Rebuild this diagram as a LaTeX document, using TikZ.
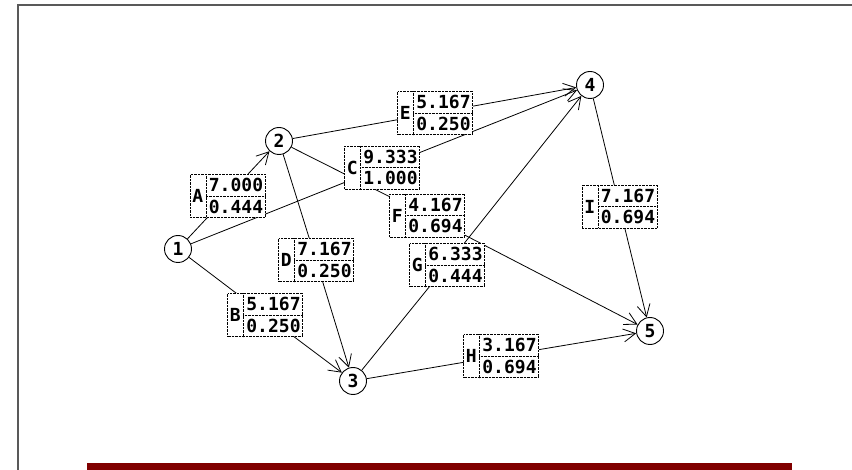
\documentclass[tikz,border=0pt]{standalone}
\usepackage{fontspec}
\newfontfamily\netfont{DejaVu Sans Mono}
\usetikzlibrary{arrows.meta,backgrounds}

\definecolor{barred}{HTML}{800000}

\tikzset{%
  event/.style    = {draw,circle,line width=0.9pt,minimum size=27pt,inner sep=0pt,fill=white,
                     font=\netfont\bfseries\fontsize{18pt}{18pt}\selectfont},
  actbox/.style   = {draw,densely dotted,fill=white,minimum width=75pt,minimum height=43pt,inner sep=0pt},
  cell/.style     = {inner sep=0pt,font=\netfont\bfseries\fontsize{18pt}{18pt}\selectfont},
  arc/.style      = {line width=0.8pt,-{Straight Barb[length=12pt,width=13pt]}},
  frame/.style    = {line width=2pt,draw=black!65},
}

% activity box: name, centre, letter, duration, variance
\newcommand\actbox[5]{%
  \node[actbox] (#1) at #2 {};
  \draw[densely dotted] ([xshift=16pt]#1.north west) -- ([xshift=16pt]#1.south west);
  \draw[densely dotted] ([xshift=16pt]#1.west) -- (#1.east);
  \node[cell] (#1-l) at ([xshift=8pt]#1.west) {#3};
  \node[cell] (#1-t) at ([xshift=8.5pt,yshift=10.75pt]#1.center) {#4};
  \node[cell] (#1-b) at ([xshift=8.5pt,yshift=-10.75pt]#1.center) {#5};
}

\begin{document}
\begin{tikzpicture}[x=1pt,y=-1pt]

\useasboundingbox (0,0) rectangle (852,470);

% frame and bar
\draw[frame] (17.5,470) -- (17.5,5.5) -- (852,5.5);
\fill[barred] (87,463) rectangle (792,470);

% events
\node[event] (n1) at (178,249) {1};
\node[event] (n2) at (279,141) {2};
\node[event] (n3) at (353,381) {3};
\node[event] (n4) at (590,85)  {4};
\node[event] (n5) at (650,331) {5};

% activities
\actbox{A}{(227.5,196)}{A}{7.000}{0.444}
\actbox{B}{(265,315)}{B}{5.167}{0.250}
\actbox{C}{(382,167.5)}{C}{9.333}{1.000}
\actbox{D}{(316,260)}{D}{7.167}{0.250}
\actbox{E}{(435,113)}{E}{5.167}{0.250}
\actbox{F}{(427,215.5)}{F}{4.167}{0.694}
\actbox{G}{(447,265)}{G}{6.333}{0.444}
\actbox{H}{(501,356)}{H}{3.167}{0.694}
\actbox{I}{(619.5,206.5)}{I}{7.167}{0.694}

% arcs
\begin{scope}[on background layer]
  \foreach \s/\a/\t in {n1/A/n2, n1/B/n3, n1/C/n4, n2/D/n3, n2/E/n4,
                        n2/F/n5, n3/G/n4, n3/H/n5, n4/I/n5}
    \draw[arc] (\s) -- (\a.center) -- (\t);
\end{scope}

\end{tikzpicture}
\end{document}
